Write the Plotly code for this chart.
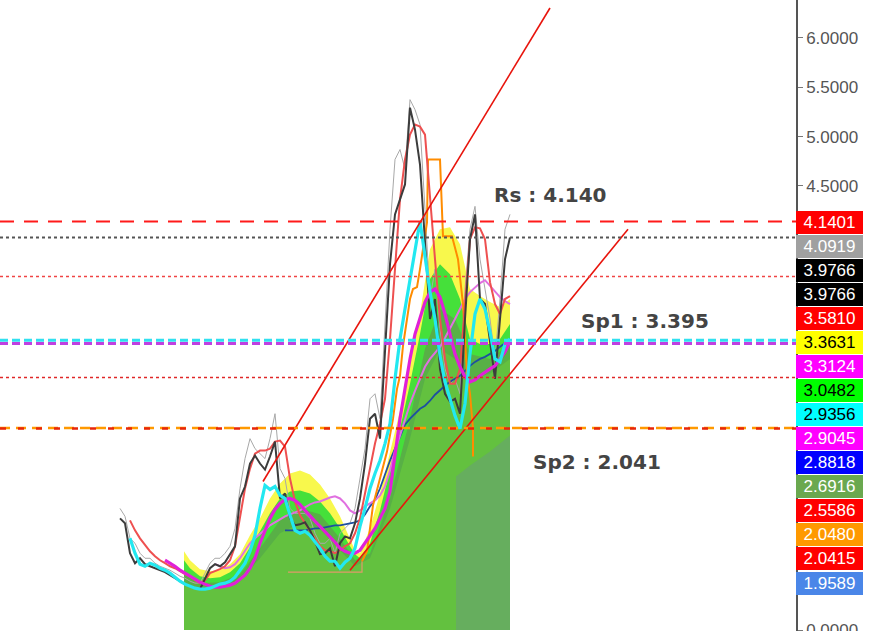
import plotly.graph_objects as go

# ---------------- data ----------------
close_vals = [1.131, 1.081, 0.778, 0.677, 0.727, 0.667, 0.646, 0.626, 0.606, 0.586,
              0.556, 0.525, 0.495, 0.465, 0.444, 0.424, 0.414, 0.525, 0.626, 0.667,
              0.646, 0.687, 0.768, 0.848, 1.333, 1.454, 1.687, 1.768, 1.687, 1.626,
              1.758, 1.909, 1.333, 1.384, 1.131, 1.061, 1.071, 1.091, 1.010, 0.899,
              0.768, 0.778, 0.828, 0.646, 0.879, 0.949, 0.929, 1.081, 1.333, 1.687,
              2.141, 2.192, 1.939, 2.798, 3.707, 4.212, 4.364, 4.515, 5.293, 5.071,
              4.717, 3.960, 3.152, 3.354, 2.646, 2.394, 2.313, 2.343, 2.192, 3.152,
              3.960, 4.212, 3.354, 3.303, 2.949, 2.545, 3.152, 3.758, 3.977]

high_vals = [1.232, 1.152, 0.929, 0.879, 0.778, 0.727, 0.727, 0.677, 0.646, 0.626,
             0.606, 0.576, 0.545, 0.525, 0.495, 0.475, 0.475, 0.576, 0.677, 0.727,
             0.727, 0.778, 0.848, 1.030, 1.434, 1.737, 1.939, 1.838, 1.788, 1.737,
             1.939, 2.192, 1.636, 1.535, 1.232, 1.182, 1.182, 1.182, 1.131, 0.980,
             0.879, 0.879, 0.929, 0.778, 0.980, 1.030, 1.081, 1.232, 1.535, 1.838,
             2.343, 2.394, 2.141, 3.051, 4.061, 4.768, 4.869, 4.667, 5.374, 5.273,
             5.121, 4.263, 3.354, 3.657, 3.051, 2.646, 2.495, 2.545, 2.394, 3.455,
             4.061, 4.293, 3.758, 3.455, 3.152, 2.747, 3.354, 4.061, 4.212]

red_start = 2
red_vals = [1.111, 1.010, 0.929, 0.859, 0.798, 0.748, 0.707, 0.677, 0.646, 0.626,
            0.596, 0.566, 0.545, 0.505, 0.475, 0.505, 0.576, 0.596, 0.616, 0.646,
            0.707, 0.848, 1.131, 1.434, 1.636, 1.788, 1.818, 1.818, 1.838, 1.909,
            1.919, 1.859, 1.535, 1.303, 1.162, 1.081, 1.010, 0.929, 0.848, 0.808,
            0.798, 0.778, 0.808, 0.848, 0.879, 0.980, 1.131, 1.384, 1.636, 1.889,
            2.091, 2.343, 2.949, 3.657, 4.364, 4.768, 5.020, 5.121, 5.101, 5.020,
            4.364, 3.758, 3.152, 2.747, 2.495, 2.495, 2.646, 3.354, 3.960, 4.081,
            4.071, 3.960, 3.525, 3.303, 3.202, 3.354, 3.384]

cyan_start = 2
cyan_vals = [0.929, 0.778, 0.667, 0.646, 0.677, 0.657, 0.626, 0.606, 0.576, 0.535,
             0.495, 0.465, 0.444, 0.424, 0.414, 0.414, 0.424, 0.444, 0.465, 0.475,
             0.495, 0.535, 0.606, 0.677, 0.798, 0.960, 1.232, 1.465, 1.424, 1.454,
             1.364, 1.333, 1.162, 1.010, 0.980, 1.000, 0.960, 0.899, 0.828, 0.748,
             0.697, 0.697, 0.626, 0.687, 0.727, 0.828, 1.051, 1.232, 1.434, 1.586,
             1.717, 1.889, 2.091, 2.545, 2.949, 3.253, 3.556, 3.859, 4.142, 3.788,
             3.424, 3.152, 2.778, 2.515, 2.343, 2.172, 2.040, 2.293, 2.798, 3.202,
             3.354, 3.253, 3.020, 2.747, 2.717, 2.899, 2.949]

magenta_start = 9
magenta_vals = [0.707, 0.677, 0.646, 0.606, 0.576, 0.545, 0.515, 0.485, 0.465, 0.444,
                0.434, 0.434, 0.444, 0.455, 0.475, 0.515, 0.556, 0.626, 0.727, 0.879,
                1.010, 1.131, 1.222, 1.283, 1.323, 1.333, 1.313, 1.273, 1.212, 1.152,
                1.101, 1.051, 1.000, 0.949, 0.889, 0.828, 0.798, 0.778, 0.778, 0.808,
                0.879, 0.949, 1.030, 1.131, 1.232, 1.404, 1.788, 2.141, 2.444, 2.747,
                2.999, 3.172, 3.323, 3.424, 3.455, 3.374, 3.202, 2.999, 2.798, 2.667,
                2.566, 2.515, 2.535, 2.576, 2.616, 2.646, 2.677, 2.747, 2.818, 2.919]

orchid_start = 19
orchid_vals = [0.667, 0.646, 0.626, 0.636, 0.667, 0.727, 0.798, 0.879, 0.929, 0.970,
               1.020, 1.061, 1.091, 1.121, 1.152, 1.172, 1.192, 1.212, 1.242, 1.273,
               1.293, 1.303, 1.323, 1.343, 1.354, 1.333, 1.283, 1.212, 1.182, 1.212,
               1.253, 1.283, 1.313, 1.364, 1.455, 1.616, 1.818, 1.970, 2.141, 2.293,
               2.424, 2.545, 2.667, 2.747, 2.808, 2.869, 2.960, 3.051, 3.152, 3.253,
               3.354, 3.424, 3.465, 3.515, 3.545, 3.485, 3.434, 3.374, 3.333, 3.303]

navy_start = 33
navy_vals = [1.010, 1.010, 1.010, 1.010, 1.010, 1.020, 1.030, 1.030, 1.040, 1.051,
             1.061, 1.061, 1.071, 1.081, 1.091, 1.111, 1.172, 1.253, 1.323, 1.434,
             1.586, 1.717, 1.838, 1.970, 2.081, 2.141, 2.192, 2.242, 2.273, 2.323,
             2.384, 2.434, 2.475, 2.515, 2.545, 2.576, 2.626, 2.677, 2.717, 2.747,
             2.768, 2.798, 2.828, 2.869, 2.909, 2.949]

orange_x = [48.4, 49.4, 50.6, 52, 53.4, 54.6, 55.4, 56, 56.6, 58, 58.6, 59.4, 60, 61.4,
            61.6, 64, 64.6, 66.4, 67.6, 68.6, 69.4, 70, 70.6, 70.6]
orange_vals = [0.697, 0.798, 1.263, 1.535, 1.808, 2.141, 2.444, 2.576, 2.879, 3.354,
               3.455, 3.475, 3.657, 4.131, 4.768, 4.768, 3.990, 3.990, 3.758, 3.303,
               2.596, 2.394, 2.040, 1.758]

base_seg_x = [33.6, 48.4, 48.4]
base_seg_vals = [0.586, 0.586, 0.697]

# cloud bands
band_x = [12.8, 14, 16, 18, 20, 22, 24, 26, 28, 30, 32, 34, 36, 38, 40, 42, 44, 46, 47, 48,
          50, 52, 54, 56, 58, 60, 62, 64, 66, 68, 70, 72, 74, 76, 78]
yellow_top = [0.798, 0.707, 0.616, 0.596, 0.606, 0.667, 0.768, 0.960, 1.131, 1.333,
              1.485, 1.586, 1.616, 1.576, 1.475, 1.333, 1.152, 0.929, 0.808, 0.778,
              1.030, 1.384, 1.788, 2.222, 2.697, 3.202, 3.859, 4.061, 4.081, 3.909,
              3.455, 3.384, 3.323, 3.273, 3.354]
lime_top = [0.707, 0.626, 0.545, 0.525, 0.535, 0.586, 0.677, 0.838, 1.000, 1.182,
            1.333, 1.404, 1.414, 1.384, 1.303, 1.182, 1.030, 0.848, 0.768, 0.727,
            0.879, 1.212, 1.616, 2.040, 2.495, 2.999, 3.556, 3.707, 3.606, 3.354,
            2.949, 2.899, 2.899, 2.949, 3.101]
band2_x = [12.8, 16, 20, 24, 28, 32, 36, 40, 44, 47, 50, 54, 58, 61, 64, 67, 70, 74, 78]
olive_top = [0.576, 0.475, 0.485, 0.566, 0.828, 1.111, 1.232, 1.172, 0.929, 0.707,
             0.778, 1.333, 2.141, 2.849, 3.253, 3.152, 2.798, 2.747, 2.899]
green_top = [0.475, 0.424, 0.434, 0.505, 0.727, 0.980, 1.081, 1.030, 0.808, 0.646,
             0.727, 1.232, 1.939, 2.545, 2.848, 2.747, 2.545, 2.596, 2.747]
shade_x = [67.2, 70, 74, 78]
shade_top = [1.556, 1.667, 1.808, 1.970]

# trend lines
trend1_x = [28.6, 86]
trend1_y = [1.505, 6.303]
trend2_x = [46, 101.6]
trend2_y = [0.606, 4.061]

# horizontal levels: value, color, width, dash
levels = [
    (4.1401, "#FF1A1A", 2, "14px,10px"),
    (3.9766, "#555555", 2, "3px,3px"),
    (3.5810, "#F04444", 1.5, "3px,3px"),
    (2.9356, "#30E0F0", 3, "8px,4px"),
    (2.9045, "#C040E0", 3, "8px,4px"),
    (2.5586, "#E02828", 1.5, "3px,3px"),
    (2.0480, "#FF9900", 2.5, "10px,6px"),
    (2.0415, "#E8250A", 2.5, "6px,12px"),
]

# right-side price tags: text, background, text colour
tags = [
    ("4.1401", "#FF0000", "white"),
    ("4.0919", "#A0A0A0", "white"),
    ("3.9766", "#000000", "white"),
    ("3.9766", "#000000", "white"),
    ("3.5810", "#FF0000", "white"),
    ("3.3631", "#FFFF00", "black"),
    ("3.3124", "#FF00FF", "white"),
    ("3.0482", "#00FF00", "black"),
    ("2.9356", "#00FFFF", "black"),
    ("2.9045", "#FF00FF", "white"),
    ("2.8818", "#0000FF", "white"),
    ("2.6916", "#6AA84F", "white"),
    ("2.5586", "#FF0000", "white"),
    ("2.0480", "#FF9900", "white"),
    ("2.0415", "#FF0000", "white"),
    ("1.9589", "#4A86E8", "white"),
]

axis_ticks = [0.0, 4.5, 5.0, 5.5, 6.0]

notes = [("Rs : 4.140", 86, 4.404), ("Sp1 : 3.395", 105, 3.131), ("Sp2 : 2.041", 95.4, 1.707)]

# ---------------- figure ----------------
W, H = 876, 631
AXIS_PX = 796

fig = go.Figure()

def fill_trace(xs, ys, color):
    fig.add_trace(go.Scatter(x=xs, y=ys, mode="lines", line=dict(width=0, color=color),
                             fill="tozeroy", fillcolor=color, hoverinfo="skip"))

fill_trace(band_x, yellow_top, "#F8F84C")
fill_trace(band_x, lime_top, "#45E03A")
fill_trace(band2_x, olive_top, "#58B046")
fill_trace(band2_x, green_top, "#63C13F")
fill_trace(shade_x, shade_top, "#66AE5E")

def line_trace(xs, ys, color, width):
    fig.add_trace(go.Scatter(x=xs, y=ys, mode="lines", line=dict(color=color, width=width),
                             hoverinfo="skip"))

line_trace(base_seg_x, base_seg_vals, "#E09A6A", 1.2)
line_trace(list(range(len(high_vals))), high_vals, "#A8A8A8", 1)
line_trace(list(range(navy_start, navy_start + len(navy_vals))), navy_vals, "#1E4FA0", 1.8)
line_trace(list(range(orchid_start, orchid_start + len(orchid_vals))), orchid_vals, "#E070E0", 2)
line_trace(orange_x, orange_vals, "#FF8C00", 2)
line_trace(list(range(red_start, red_start + len(red_vals))), red_vals, "#EE5050", 2)
line_trace(list(range(len(close_vals))), close_vals, "#3C3C3C", 2)
line_trace(list(range(magenta_start, magenta_start + len(magenta_vals))), magenta_vals, "#E020D8", 3.2)
line_trace(list(range(cyan_start, cyan_start + len(cyan_vals))), cyan_vals, "#22E8F0", 3.2)
line_trace(trend1_x, trend1_y, "#E8140C", 1.6)
line_trace(trend2_x, trend2_y, "#E8140C", 1.6)

for val, col, wd, dash in levels:
    fig.add_shape(type="line", xref="x domain", x0=0, x1=1, yref="y", y0=val, y1=val,
                  line=dict(color=col, width=wd, dash=dash), layer="above")

for txt, xv, yv in notes:
    fig.add_annotation(x=xv, y=yv, xref="x", yref="y", text=txt, showarrow=False,
                       font=dict(family="DejaVu Sans", size=20, color="#444444", weight="bold"))

TAG_TOP = 222
TAG_STEP = 24.07
for k, (txt, bg, fc) in enumerate(tags):
    cy = TAG_TOP + k * TAG_STEP
    fig.add_annotation(x=AXIS_PX / W, y=1 - cy / H, xref="paper", yref="paper",
                       xanchor="left", yanchor="middle", text=txt, showarrow=False,
                       bgcolor=bg, width=67, height=23, borderpad=0, borderwidth=0,
                       align="center", font=dict(family="Liberation Sans", size=17, color=fc))

x_left = -120 / 5
x_right = (AXIS_PX - 120) / 5

fig.update_layout(
    width=W, height=H, margin=dict(l=0, r=0, t=0, b=0, autoexpand=False),
    paper_bgcolor="white", plot_bgcolor="white", showlegend=False,
    xaxis=dict(domain=[0, AXIS_PX / W], range=[x_left, x_right], visible=False, fixedrange=True),
    yaxis=dict(side="right", range=[-0.01, 6.384], tickvals=axis_ticks, tickformat=".4f",
               automargin=False,
               showgrid=False, zeroline=False, showline=True, linecolor="#555555", linewidth=1.5,
               ticks="outside", ticklen=5, tickcolor="#777777", ticklabeloverflow="allow",
               tickfont=dict(family="Liberation Sans", size=17, color="#555555")),
)

fig.write_html("out.html", include_plotlyjs=True, config={"displayModeBar": False},
               post_script="document.body.style.margin='0';")
